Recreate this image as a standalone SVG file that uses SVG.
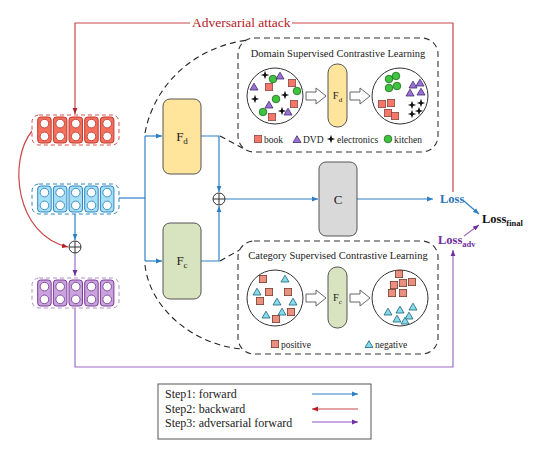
<svg xmlns="http://www.w3.org/2000/svg" xmlns:xlink="http://www.w3.org/1999/xlink" width="545" height="453" viewBox="0 0 545 453">
<style>
text{font-family:"Liberation Serif","Times New Roman",serif;}
.blue{stroke:#2E80C5;stroke-width:1.2;fill:none;}
.red{stroke:#C9474B;stroke-width:1.2;fill:none;}
.purple{stroke:#9C6FC6;stroke-width:1.2;fill:none;}
.dash{stroke:#222;stroke-width:1.1;fill:none;stroke-dasharray:6 4;}
.panel{stroke:#333;stroke-width:1.1;fill:#fff;stroke-dasharray:6 4;}
.circ{fill:#fff;stroke:#333;stroke-width:1;}
.sq{fill:#F4776A;stroke:#8B4A40;stroke-width:0.8;}
.csq{fill:#E9907F;stroke:#7A3B30;stroke-width:0.8;}
.tri{fill:#9B72CF;stroke:#3F2A78;stroke-width:0.8;}
.ctri{fill:#84DCEB;stroke:#1F5F7A;stroke-width:0.8;}
.grn{fill:#3EC43E;stroke:#1D6B1D;stroke-width:0.8;}
.hollow{fill:#fff;stroke:#555;stroke-width:0.9;}
.lbl{font-size:9.5px;fill:#222;}
.title{font-size:10.5px;fill:#222;}
</style>
<defs>
<marker id="ab" viewBox="0 0 10 10" refX="10" refY="5" markerWidth="6" markerHeight="6" markerUnits="userSpaceOnUse" orient="auto"><path d="M0,1 L10,5 L0,9 z" fill="#2E80C5"/></marker>
<marker id="ar" viewBox="0 0 10 10" refX="10" refY="5" markerWidth="6" markerHeight="6" markerUnits="userSpaceOnUse" orient="auto"><path d="M0,1 L10,5 L0,9 z" fill="#B52025"/></marker>
<marker id="ap" viewBox="0 0 10 10" refX="10" refY="5" markerWidth="6" markerHeight="6" markerUnits="userSpaceOnUse" orient="auto"><path d="M0,1 L10,5 L0,9 z" fill="#7030A0"/></marker>
<g id="cell"><rect x="0" y="0" width="13.5" height="26" rx="3" stroke-width="1"/><circle cx="6.75" cy="6.6" r="4.3" fill="#fff" stroke-width="0.9"/><circle cx="6.75" cy="19.4" r="4.3" fill="#fff" stroke-width="0.9"/></g>
<path id="star" d="M0,-4.2 L1.1,-1.1 L4.2,0 L1.1,1.1 L0,4.2 L-1.1,1.1 L-4.2,0 L-1.1,-1.1Z" fill="#111"/>
<rect id="sqr" x="-3.6" y="-3.6" width="7.2" height="7.2"/>
<path id="trg" d="M0,-3.8 L4,3 L-4,3Z"/>
<circle id="dot" r="3.8"/>
</defs>

<!-- connectors -->
<g id="connectors">
  <!-- adversarial attack (red) -->
  <polyline class="red" points="190,23 75,23 75,114" marker-end="url(#ar)"/>
  <polyline class="red" points="292,23 453,23 453,192"/>
  <path class="red" d="M32,131 C8,160 15,235 68,247" marker-end="url(#ar)"/>
  <!-- blue forward -->
  <line class="blue" x1="75" y1="213" x2="75" y2="240" marker-end="url(#ab)"/>
  <polyline class="blue" points="119,198 145,198"/>
  <line class="blue" x1="145" y1="136" x2="145" y2="261"/>
  <line class="blue" x1="145" y1="136" x2="162" y2="136" marker-end="url(#ab)"/>
  <line class="blue" x1="145" y1="261" x2="162" y2="261" marker-end="url(#ab)"/>
  <polyline class="blue" points="201,136 219,136 219,192" marker-end="url(#ab)"/>
  <polyline class="blue" points="201,261 219,261 219,206" marker-end="url(#ab)"/>
  <line class="blue" x1="225" y1="199" x2="318" y2="199" marker-end="url(#ab)"/>
  <line class="blue" x1="357" y1="199" x2="433" y2="199" marker-end="url(#ab)"/>
  <line class="blue" x1="464" y1="201" x2="479" y2="214" marker-end="url(#ab)"/>
  <!-- purple -->
  <line class="purple" x1="75" y1="253" x2="75" y2="276" marker-end="url(#ap)"/>
  <polyline class="purple" points="75,308 75,367 453,367 453,250" marker-end="url(#ap)"/>
  <line class="purple" x1="464" y1="236" x2="479" y2="225" marker-end="url(#ap)"/>
  <!-- zoom callouts -->
  <path class="dash" d="M145,133 C155,80 200,45 249,40"/>
  <line class="dash" x1="220" y1="136" x2="246" y2="150"/>
  <path class="dash" d="M145,265 C150,310 195,345 242,349"/>
  <line class="dash" x1="220" y1="261" x2="243" y2="248"/>
</g>

<text x="192" y="27" font-size="13.5" fill="#B52025">Adversarial attack</text>

<!-- embeddings -->
<g id="adv-emb">
  <rect x="32" y="115" width="87" height="30" rx="7" fill="#fff" stroke="#D9534F" stroke-width="1" stroke-dasharray="4 3"/>
  <g fill="#F46F5E" stroke="#C0392B">
    <use href="#cell" x="37.7" y="117"/><use href="#cell" x="53.4" y="117"/><use href="#cell" x="69" y="117"/><use href="#cell" x="84.7" y="117"/><use href="#cell" x="100.4" y="117"/>
  </g>
</g>
<g id="emb">
  <rect x="32" y="184" width="87" height="30" rx="7" fill="#fff" stroke="#2E86C1" stroke-width="1" stroke-dasharray="4 3"/>
  <g fill="#A6E0F7" stroke="#2E86C1">
    <use href="#cell" x="37.7" y="186"/><use href="#cell" x="53.4" y="186"/><use href="#cell" x="69" y="186"/><use href="#cell" x="84.7" y="186"/><use href="#cell" x="100.4" y="186"/>
  </g>
</g>
<g id="mix-emb">
  <rect x="32" y="278" width="87" height="30" rx="7" fill="#fff" stroke="#B48ED0" stroke-width="1" stroke-dasharray="4 3"/>
  <g fill="#C9A3DC" stroke="#7D3C98">
    <use href="#cell" x="37.7" y="280"/><use href="#cell" x="53.4" y="280"/><use href="#cell" x="69" y="280"/><use href="#cell" x="84.7" y="280"/><use href="#cell" x="100.4" y="280"/>
  </g>
</g>

<!-- plus nodes -->
<g id="plus-left">
  <circle cx="75" cy="247" r="6" fill="#fff" stroke="#333" stroke-width="1"/>
  <path d="M69,247 H81 M75,241 V253" stroke="#333" stroke-width="1"/>
</g>
<g id="plus-mid">
  <circle cx="219" cy="199" r="6" fill="#fff" stroke="#333" stroke-width="1"/>
  <path d="M213,199 H225 M219,193 V205" stroke="#333" stroke-width="1"/>
</g>

<!-- encoders -->
<g id="Fd">
  <rect x="163" y="99" width="38" height="75" rx="7" fill="#FFE49C" stroke="#555" stroke-width="1"/>
  <text x="182" y="141" font-size="13" text-anchor="middle" fill="#222">F<tspan font-size="9" dy="3">d</tspan></text>
</g>
<g id="Fc">
  <rect x="163" y="223" width="38" height="76" rx="7" fill="#D8E4C0" stroke="#555" stroke-width="1"/>
  <text x="182" y="265" font-size="13" text-anchor="middle" fill="#222">F<tspan font-size="9" dy="3">c</tspan></text>
</g>
<g id="C">
  <rect x="319" y="162" width="38" height="74" rx="7" fill="#D9D9D9" stroke="#555" stroke-width="1"/>
  <text x="338" y="204" font-size="13" text-anchor="middle" fill="#222">C</text>
</g>

<!-- losses -->
<g id="loss">
  <text x="440" y="203" font-size="12.5" font-weight="bold" fill="#2E75B6">Loss</text>
</g>
<g id="loss-adv">
  <text x="438" y="244" font-size="12.5" font-weight="bold" fill="#7030A0">Loss<tspan font-size="8.5" dy="3">adv</tspan></text>
</g>
<g id="loss-final">
  <text x="482" y="223" font-size="12.5" font-weight="bold" fill="#111">Loss<tspan font-size="8.5" dy="3">final</tspan></text>
</g>

<!-- domain panel -->
<g id="domain-panel">
  <rect class="panel" x="238" y="38" width="200" height="114" rx="16"/>
  <text class="title" x="338" y="57" text-anchor="middle">Domain Supervised Contrastive Learning</text>
  <circle class="circ" cx="275" cy="96" r="28"/>
  <g>
    <use href="#star" x="265" y="75"/><use href="#star" x="255" y="99"/><use href="#star" x="285" y="95"/><use href="#star" x="282" y="111"/>
    <use href="#dot" class="grn" x="273" y="79"/><use href="#dot" class="grn" x="297" y="91"/><use href="#dot" class="grn" x="276" y="99"/><use href="#dot" class="grn" x="263" y="112"/>
    <use href="#trg" class="tri" x="280" y="76"/><use href="#trg" class="tri" x="254" y="87"/><use href="#trg" class="tri" x="269" y="105"/><use href="#trg" class="tri" x="288" y="112"/>
    <use href="#sqr" class="sq" x="269" y="87"/><use href="#sqr" class="sq" x="292" y="83"/><use href="#sqr" class="sq" x="294" y="104"/><use href="#sqr" class="sq" x="272" y="117"/>
  </g>
  <path class="hollow" d="M306,92 H316 V88 L326,96 L316,104 V100 H306Z"/>
  <rect x="328" y="64" width="19" height="63" rx="9" fill="#FFE49C" stroke="#555" stroke-width="1"/>
  <text x="337.5" y="99" font-size="10.5" text-anchor="middle" fill="#222">F<tspan font-size="7" dy="2.5">d</tspan></text>
  <path class="hollow" d="M350,92 H360 V88 L370,96 L360,104 V100 H350Z"/>
  <circle class="circ" cx="400" cy="96" r="28"/>
  <g>
    <use href="#dot" class="grn" x="389" y="79"/><use href="#dot" class="grn" x="396" y="76"/><use href="#dot" class="grn" x="389" y="88"/><use href="#dot" class="grn" x="397" y="86"/>
    <use href="#trg" class="tri" x="413" y="85"/><use href="#trg" class="tri" x="420" y="83"/><use href="#trg" class="tri" x="410" y="93"/><use href="#trg" class="tri" x="421" y="92"/>
    <use href="#sqr" class="sq" x="382" y="104"/><use href="#sqr" class="sq" x="391" y="103"/><use href="#sqr" class="sq" x="388" y="113"/><use href="#sqr" class="sq" x="395" y="116"/>
    <use href="#star" x="412" y="105"/><use href="#star" x="421" y="103"/><use href="#star" x="412" y="114"/><use href="#star" x="419" y="111"/>
  </g>
  <use href="#sqr" class="sq" x="258" y="139"/><text class="lbl" x="264" y="142.5">book</text>
  <use href="#trg" class="tri" x="297" y="139.5"/><text class="lbl" x="303" y="142.5">DVD</text>
  <use href="#star" x="331" y="139"/><text class="lbl" x="337" y="142.5">electronics</text>
  <use href="#dot" class="grn" x="388" y="139"/><text class="lbl" x="394" y="142.5">kitchen</text>
</g>

<!-- category panel -->
<g id="category-panel">
  <rect class="panel" x="238" y="241" width="200" height="113" rx="16"/>
  <text class="title" x="338" y="259" text-anchor="middle">Category Supervised Contrastive Learning</text>
  <circle class="circ" cx="275" cy="298" r="28"/>
  <g>
    <use href="#sqr" class="csq" x="263" y="279"/><use href="#sqr" class="csq" x="269" y="292"/><use href="#sqr" class="csq" x="288" y="292"/><use href="#sqr" class="csq" x="260" y="301"/><use href="#sqr" class="csq" x="291" y="312"/><use href="#sqr" class="csq" x="276" y="319"/>
    <use href="#trg" class="ctri" x="285" y="279"/><use href="#trg" class="ctri" x="257" y="292"/><use href="#trg" class="ctri" x="277" y="302"/><use href="#trg" class="ctri" x="293" y="302"/><use href="#trg" class="ctri" x="266" y="315"/><use href="#trg" class="ctri" x="282" y="312"/>
  </g>
  <path class="hollow" d="M306,294 H316 V290 L326,298 L316,306 V302 H306Z"/>
  <rect x="328" y="267" width="19" height="61" rx="9" fill="#D8E4C0" stroke="#555" stroke-width="1"/>
  <text x="337.5" y="301" font-size="10.5" text-anchor="middle" fill="#222">F<tspan font-size="7" dy="2.5">c</tspan></text>
  <path class="hollow" d="M350,294 H360 V290 L370,298 L360,306 V302 H350Z"/>
  <circle class="circ" cx="400" cy="298" r="28"/>
  <g>
    <use href="#sqr" class="csq" x="399" y="274"/><use href="#sqr" class="csq" x="394" y="285"/><use href="#sqr" class="csq" x="403" y="283"/><use href="#sqr" class="csq" x="412" y="282"/><use href="#sqr" class="csq" x="392" y="293"/><use href="#sqr" class="csq" x="403" y="293"/>
    <use href="#trg" class="ctri" x="388" y="312"/><use href="#trg" class="ctri" x="400" y="310"/><use href="#trg" class="ctri" x="413" y="307"/><use href="#trg" class="ctri" x="397" y="319"/><use href="#trg" class="ctri" x="409" y="316"/><use href="#trg" class="ctri" x="405" y="321"/>
  </g>
  <use href="#sqr" class="csq" x="275" y="344"/><text class="lbl" x="281" y="347.5">positive</text>
  <use href="#trg" class="ctri" x="369" y="344.5"/><text class="lbl" x="375" y="347.5">negative</text>
</g>

<!-- legend -->
<g id="legend">
  <rect x="158" y="384" width="213" height="55" fill="#fff" stroke="#555" stroke-width="1"/>
  <text x="165" y="398" font-size="12" fill="#222">Step1: forward</text>
  <text x="165" y="413" font-size="12" fill="#222">Step2: backward</text>
  <text x="165" y="427" font-size="12" fill="#222">Step3: adversarial forward</text>
  <line class="blue" x1="312" y1="394" x2="358" y2="394" marker-end="url(#ab)"/>
  <line class="red" x1="358" y1="409" x2="312" y2="409" marker-end="url(#ar)"/>
  <line x1="312" y1="422" x2="358" y2="422" stroke="#C9A7E0" stroke-width="2" marker-end="url(#ap)"/>
</g>
</svg>
